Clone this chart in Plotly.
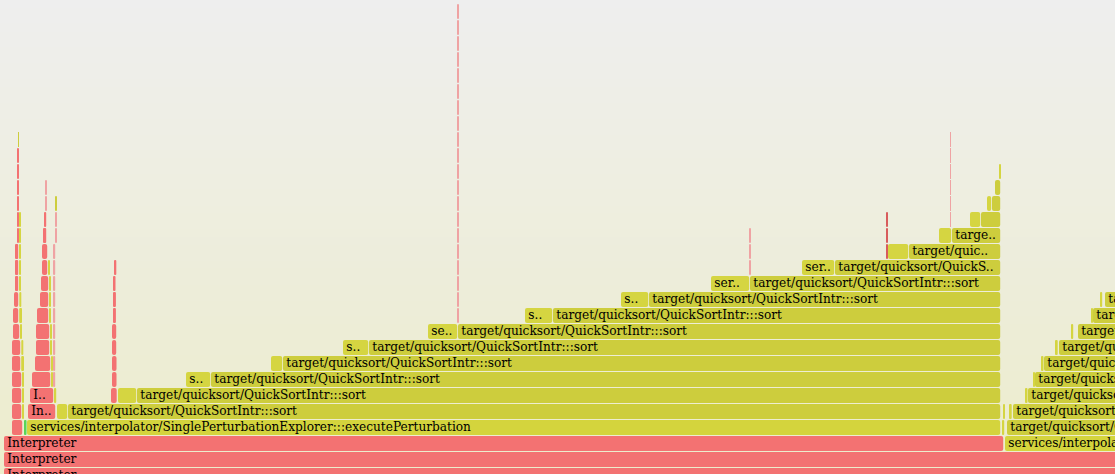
import plotly.graph_objects as go

# ---------------- data: flame graph frames (x in samples, depth = stack level) ----------------
SORT = "target/quicksort/QuickSortIntr:::sort"
EXPL = "services/interpolator/SinglePerturbationExplorer:::executePerturbation"

# main frames: kind, depth, start, end, label
frame_kind = []
frame_depth = []
frame_start = []
frame_end = []
frame_label = []

def add(kind, depth, start, end, label=""):
    frame_kind.append(kind); frame_depth.append(depth)
    frame_start.append(start); frame_end.append(end); frame_label.append(label)

# root rows
root_rows = [
    ("red", 0, 4, 1400, "Interpreter"),
    ("red", 1, 4, 1400, "Interpreter"),
    ("red", 2, 4, 1004, "Interpreter"),
    ("svc", 2, 1005, 1400, EXPL),
    ("grn", 3, 24, 26.5, ""),
    ("svc", 3, 27, 1001, EXPL),
    ("red", 4, 28, 56, "In.."),
    ("lyel", 4, 57, 68, ""),
    ("yel", 4, 68, 1001, SORT),
    ("red", 5, 30, 54, "I.."),
    ("lyel", 5, 54, 57, ""),
    ("lyel", 5, 118, 137, ""),
    ("yel", 5, 137, 1001, SORT),
]
for r in root_rows:
    add(*r)

# left staircase: depth, small-box start, sort start, small label, sort label
stair_depth = [6, 7, 8, 9, 10, 11, 12, 13, 14, 15]
stair_small = [186, 271, 343, 428, 525, 621, 711, 802, 888, 939]
stair_sort = [211, 283, 369, 458, 553, 649, 750, 835, 909, 952]
stair_small_label = ["s..", "", "s..", "se..", "s..", "s..", "ser..", "ser..", "", ""]
stair_sort_label = [SORT] * 7 + ["target/quicksort/QuickS..", "target/quic..", "targe.."]
stair_end = 1001
for d, s0, s1, l0, l1 in zip(stair_depth, stair_small, stair_sort, stair_small_label, stair_sort_label):
    add("lyel", d, s0, s1, l0)
    add("yel", d, s1, stair_end, l1)

# top of left staircase
tip_rows = [
    ("lyel", 16, 970, 981), ("yel", 16, 981, 1001),
    ("lyel", 17, 987, 992), ("yel", 17, 992, 1001),
    ("yel", 18, 995, 1001),
    ("lyel", 19, 999, 1001),
]
for r in tip_rows:
    add(*r)

# right staircase (continues past the window): depth, small-box start, sort start
right_depth = [3, 4, 5, 6, 7, 8, 9, 10, 11]
right_small = [1002, 1009, 1025, 1033, 1041, 1055, 1071, 1091, 1100]
right_sort = [1007, 1013, 1028, 1035, 1044, 1059, 1078, 1093, 1105]
for d, s0, s1 in zip(right_depth, right_small, right_sort):
    add("lyel", d, s0, s0 + 3 if s1 - s0 > 4 else s1 - 0.5, "")
    add("yel", d, s1, 1400, SORT)
add("lyel", 4, 1003, 1004.5, "")

# narrow Interpreter towers on the left: depth -> (start, end)
towerA_depth = list(range(3, 22))
towerA_start = [12, 12, 12, 12, 12, 12, 13, 13, 14, 15, 15, 15, 17, 17, 17.7, 17.7, 17.7, 17.7, 18]
towerA_end = [23, 22, 22, 22, 21, 21, 20, 19, 19, 19, 19, 19, 19, 18.7, 18.7, 18.7, 18.7, 18.7, 18.8]
towerA_kind = ["red"] * 18 + ["yel"]
towerA_side = [None, (22.3, 24), (22.3, 23.5), (22.3, 24), (21.2, 24), (21.3, 23.3), (20, 22),
               (19.2, 22), (19.3, 21.3), (19.3, 20.7), (19.3, 20.7), (19.3, 20.7), (19.7, 20.8),
               (19.3, 21), None, None, None, None, None]
for d, s, e, k, side in zip(towerA_depth, towerA_start, towerA_end, towerA_kind, towerA_side):
    add(k, d, s, e)
    if side:
        add("lyel", d, side[0], side[1])

towerB_depth = list(range(6, 19))
towerB_start = [32, 35, 36, 36, 37, 40, 41, 42, 42, 43, 44, 45, 45]
towerB_end = [51, 51, 50, 50, 49, 49, 49, 48, 48, 47, 47, 46.7, 46.7]
towerB_kind = ["red"] * 11 + ["pink", "pink"]
for d, s, e, k in zip(towerB_depth, towerB_start, towerB_end, towerB_kind):
    add(k, d, s, e)
    if d <= 13:
        add("lyel", d, e, e + 2)
    if d <= 14:
        add("pink", d, 53, 56)
    elif d <= 16:
        add("pink", d, 55, 56.7)
    elif d == 17:
        add("yel", d, 55, 56.7)

towerC_depth = list(range(5, 14))
towerC_start = [111, 112, 112, 112, 112, 113, 113, 113, 114]
towerC_end = [117.5, 117.3, 117.3, 117, 117, 116.7, 116.7, 116.3, 116.3]
for d, s, e in zip(towerC_depth, towerC_start, towerC_end):
    add("red", d, s, e)

# one-sample-wide deep stacks (x position, first depth, last depth, kind)
spike_x = [458, 750, 887, 950.5]
spike_from = [10, 13, 14, 16]
spike_to = [29, 15, 16, 21]
spike_kind = ["pink", "pink", "dred", "pink"]
spike_w = [1.0, 1.0, 0.7, 1.0]
for x, d0, d1, k, w in zip(spike_x, spike_from, spike_to, spike_kind, spike_w):
    for d in range(d0, d1 + 1):
        add(k, d, x - w / 2, x + w / 2)

# ---------------- styling ----------------
COLORS = {
    "red": "#f37272",
    "pink": "#efa3a3",
    "dred": "#d85c5c",
    "yel": "#cdcd3d",
    "lyel": "#d5d541",
    "svc": "#d4d43d",
    "grn": "#58d658",
}
ROW = 15 / 16

widths_draw = []
for s, e in zip(frame_start, frame_end):
    w = e - s
    widths_draw.append(w - 0.8 if w >= 3 else w)

fig = go.Figure()
fig.add_trace(go.Bar(
    orientation="h",
    base=frame_start,
    x=widths_draw,
    y=[d + 0.5 for d in frame_depth],
    width=ROW,
    marker=dict(color=[COLORS[k] for k in frame_kind], line=dict(width=0), cornerradius=2),
    hoverinfo="skip",
))

lab_x = [s + 3.3 for s, l in zip(frame_start, frame_label) if l]
lab_y = [d + 0.5 for d, l in zip(frame_depth, frame_label) if l]
lab_t = [l for l in frame_label if l]
fig.add_trace(go.Scatter(
    x=lab_x, y=lab_y, text=lab_t, mode="text",
    textposition="middle right",
    textfont=dict(family="DejaVu Serif", size=12.15, color="#000000"),
    hoverinfo="skip", cliponaxis=True,
))

# background gradient bands (#eeeeee at top -> pale yellow at bottom)
shapes = []
N = 60
top = (238, 238, 238)
bot = (237, 237, 204)
for i in range(N):
    t = (i + 0.5) / N
    c = tuple(round(top[j] + (bot[j] - top[j]) * t) for j in range(3))
    shapes.append(dict(type="rect", xref="paper", yref="paper",
                       x0=0, x1=1, y0=1 - (i + 1) / N - 0.002, y1=1 - i / N,
                       fillcolor="rgb(%d,%d,%d)" % c, line=dict(width=0), layer="below"))

fig.update_layout(
    width=1115, height=474,
    margin=dict(l=0, r=0, t=0, b=0),
    paper_bgcolor="#eeeee0",
    plot_bgcolor="rgba(0,0,0,0)",
    showlegend=False,
    shapes=shapes,
    xaxis=dict(range=[0, 1115], visible=False, fixedrange=True),
    yaxis=dict(range=[9.5 / 16, 9.5 / 16 + 474 / 16], visible=False, fixedrange=True),
    barmode="overlay",
)
fig.write_html("out.html", config={"displayModeBar": False})
